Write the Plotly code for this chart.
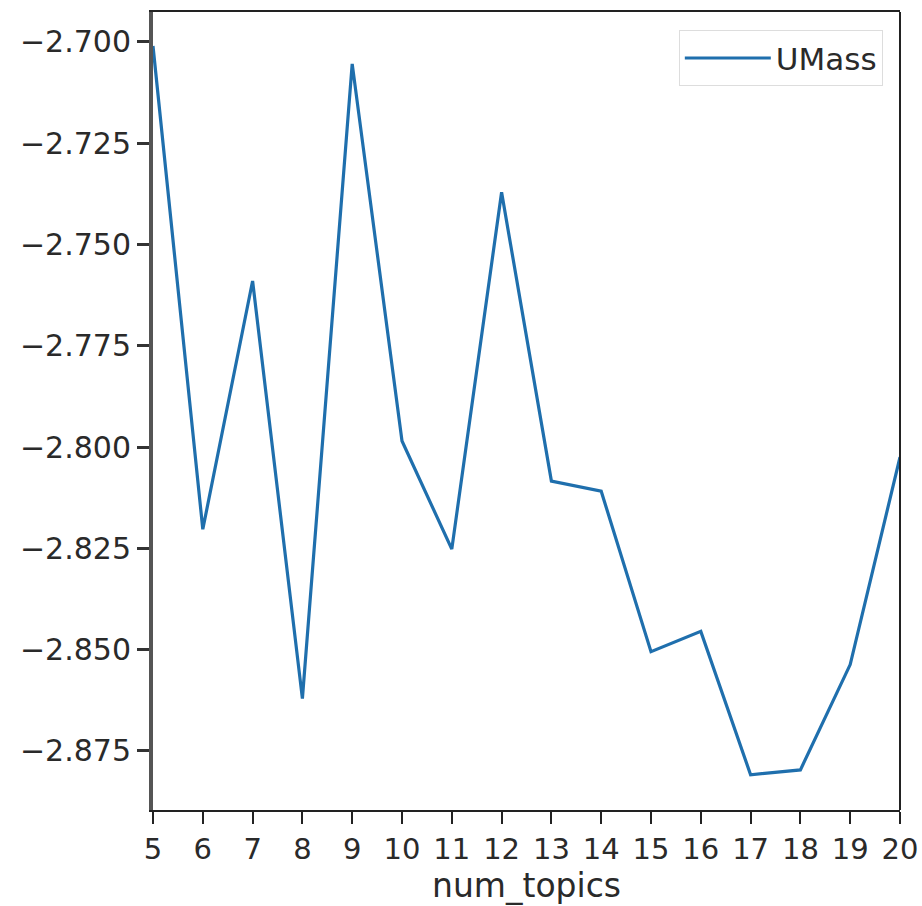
import plotly.graph_objects as go

num_topics = [5, 6, 7, 8, 9, 10, 11, 12, 13, 14, 15, 16, 17, 18, 19, 20]
umass = [-2.701, -2.8203, -2.759, -2.8621, -2.7054, -2.7985, -2.8252, -2.7371,
         -2.8084, -2.8109, -2.8505, -2.8455, -2.8809, -2.8797, -2.8537, -2.8025]
y_ticks = [-2.700, -2.725, -2.750, -2.775, -2.800, -2.825, -2.850, -2.875]
y_tick_labels = ["\u22122.700", "\u22122.725", "\u22122.750", "\u22122.775",
                 "\u22122.800", "\u22122.825", "\u22122.850", "\u22122.875"]

font = "DejaVu Sans"
fig = go.Figure()
fig.add_trace(go.Scatter(x=num_topics, y=umass, mode="lines", name="UMass",
                         line=dict(color="#1f6fad", width=3.2)))

fig.update_layout(
    width=922, height=906,
    margin=dict(l=153, r=22, t=12, b=96, autoexpand=False),
    paper_bgcolor="white", plot_bgcolor="white",
    font=dict(family=font, size=31, color="#2a2a2a"),
    showlegend=True,
    legend=dict(x=0.977, y=0.977, xanchor="right", yanchor="top",
                bgcolor="white", bordercolor="#dddddd", borderwidth=1,
                font=dict(family=font, size=31, color="#2a2a2a"),
                itemwidth=86),
    xaxis=dict(range=[5, 20], tickmode="array", tickvals=num_topics,
               ticks="outside", ticklen=12, tickwidth=2, tickcolor="#222222",
               showline=True, linecolor="#222222", linewidth=2, mirror=True,
               showgrid=False, zeroline=False, automargin=False,
               tickfont=dict(family=font, size=29, color="#2a2a2a"),
               title=dict(text="num_topics", standoff=4,
                          font=dict(family=font, size=33, color="#2a2a2a"))),
    yaxis=dict(range=[-2.8896, -2.6926], tickmode="array", tickvals=y_ticks,
               ticktext=y_tick_labels,
               ticks="outside", ticklen=12, tickwidth=2.5, tickcolor="#333333",
               showline=True, linecolor="#555555", linewidth=4,
               showgrid=False, zeroline=False, automargin=False,
               tickfont=dict(family=font, size=30, color="#2a2a2a")),
    shapes=[
        dict(type="line", xref="paper", yref="paper", x0=1, x1=1, y0=0, y1=1,
             line=dict(color="#222222", width=2)),
    ],
)

fig.write_html("out.html", config={"displayModeBar": False},
               post_script="document.body.style.margin='0';"
                           "document.body.style.overflow='hidden';")
